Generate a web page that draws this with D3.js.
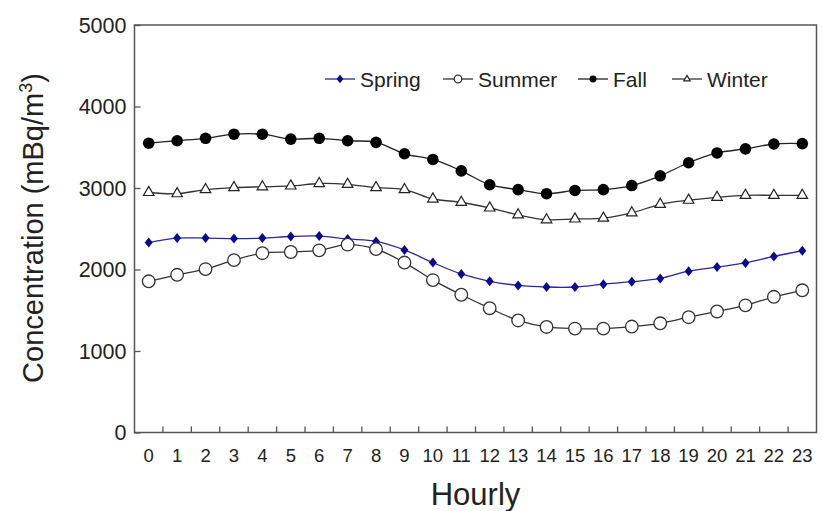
<!DOCTYPE html>
<html>
<head>
<meta charset="utf-8">
<script src="https://cdn.jsdelivr.net/npm/d3@7"></script>
<style>
	body { margin: 0; background: #fff; }
	text { font-family: "Liberation Sans", Arial, sans-serif; fill: #222; }
</style>
</head>
<body>
<div id="chart"></div>
<script>
const hours = d3.range(0, 24)
const yTicks = [0, 1000, 2000, 3000, 4000, 5000]

const spring = [2330, 2385, 2385, 2380, 2385, 2405, 2410, 2375, 2345, 2240, 2085, 1945,
	1855, 1805, 1785, 1785, 1820, 1850, 1890, 1980, 2030, 2080, 2160, 2230]
const summer = [1855, 1935, 2005, 2115, 2200, 2215, 2235, 2305, 2250, 2085, 1870, 1690,
	1525, 1375, 1295, 1275, 1275, 1300, 1340, 1415, 1485, 1560, 1665, 1745]
const fall = [3550, 3580, 3610, 3660, 3660, 3600, 3610, 3580, 3560, 3420, 3350, 3210,
	3040, 2980, 2930, 2970, 2980, 3030, 3150, 3310, 3430, 3480, 3540, 3545]
const winter = [2945, 2930, 2980, 3005, 3015, 3025, 3055, 3045, 3005, 2980, 2865, 2825,
	2755, 2670, 2610, 2620, 2630, 2695, 2800, 2850, 2885, 2910, 2910, 2910]

const seriesNames = ['Spring', 'Summer', 'Fall', 'Winter']

const width = 822, height = 511
const margin = { top: 25, right: 5.5, bottom: 78.5, left: 134.5 }

let svg = d3.select('#chart')
	.append('svg')
	.attr('width', width)
	.attr('height', height)

let xScale = d3.scaleBand()
	.domain(hours)
	.range([margin.left, width - margin.right])

let yScale = d3.scaleLinear()
	.domain([0, 5000])
	.range([height - margin.bottom, margin.top])

const x = h => xScale(h) + xScale.bandwidth() / 2

// frame
svg.append('rect')
	.attr('x', margin.left)
	.attr('y', margin.top)
	.attr('width', width - margin.left - margin.right)
	.attr('height', height - margin.top - margin.bottom)
	.attr('fill', 'none')
	.attr('stroke', '#555')
	.attr('stroke-width', 1.5)

// y axis, ticks inward
let yAxis = svg.append('g')
	.attr('transform', `translate(${margin.left},0)`)
	.call(d3.axisRight(yScale).tickValues(yTicks).tickSize(6).tickFormat(''))
yAxis.select('.domain').remove()
yAxis.selectAll('line').attr('stroke', '#555').attr('stroke-width', 1.3)

svg.selectAll('.ylab')
	.data(yTicks)
	.join('text')
	.attr('class', 'ylab')
	.attr('x', margin.left - 8)
	.attr('y', d => yScale(d))
	.attr('dy', '0.36em')
	.attr('text-anchor', 'end')
	.style('font-size', '21.5px')
	.text(d => d)

// x axis: ticks sit at the band edges
const xEdges = hours.slice(1).map(h => xScale(h))
svg.selectAll('.xtick')
	.data(xEdges)
	.join('line')
	.attr('x1', d => d).attr('x2', d => d)
	.attr('y1', yScale(0)).attr('y2', yScale(0) - 6)
	.attr('stroke', '#555')
	.attr('stroke-width', 1.3)

svg.selectAll('.xlab')
	.data(hours)
	.join('text')
	.attr('class', 'xlab')
	.attr('x', d => x(d))
	.attr('y', 462)
	.attr('text-anchor', 'middle')
	.style('font-size', '18.5px')
	.text(d => d)

svg.append('text')
	.attr('x', (margin.left + width - margin.right) / 2)
	.attr('y', 505)
	.attr('text-anchor', 'middle')
	.style('font-size', '31px')
	.text('Hourly')

svg.append('text')
	.attr('transform', `translate(43,228) rotate(-90)`)
	.attr('text-anchor', 'middle')
	.style('font-size', '29px')
	.html('Concentration (mBq/m<tspan dy="-11" style="font-size:18px">3</tspan><tspan dy="11">)</tspan>')

// marker drawing, s = 1 for the plot, smaller for the legend
function drawMarker(g, type, s) {
	if (type === 'Spring') {
		const d = s < 1 ? 0.85 : 1
		g.append('path')
			.attr('d', `M0,${-5 * d}L${4 * d},0L0,${5 * d}L${-4 * d},0Z`)
			.attr('fill', '#0a0a8a')
	} else if (type === 'Summer') {
		g.append('circle')
			.attr('r', 6.3 * s)
			.attr('fill', '#fff')
			.attr('stroke', '#333')
			.attr('stroke-width', 1.3)
	} else if (type === 'Fall') {
		g.append('circle')
			.attr('r', 5.8 * s)
			.attr('fill', '#000')
	} else {
		g.append('path')
			.attr('d', d3.symbol(d3.symbolTriangle, 48 * s * s)())
			.attr('fill', '#fff')
			.attr('stroke', '#222')
			.attr('stroke-width', 1.2)
	}
}

const seriesData = { Spring: spring, Summer: summer, Fall: fall, Winter: winter }
const lineColor = { Spring: '#2a2a9a', Summer: '#333', Fall: '#222', Winter: '#333' }

let line = d3.line()
	.x((d, i) => x(hours[i]))
	.y(d => yScale(d))
	.curve(d3.curveCatmullRom.alpha(0.5))

seriesNames.forEach(name => {
	const vals = seriesData[name]
	svg.append('path')
		.datum(vals)
		.attr('d', line)
		.attr('fill', 'none')
		.attr('stroke', lineColor[name])
		.attr('stroke-width', 1.3)

	svg.selectAll('.m-' + name)
		.data(vals)
		.join('g')
		.attr('class', 'm-' + name)
		.attr('transform', (d, i) => `translate(${x(hours[i])},${yScale(d)})`)
		.each(function() { drawMarker(d3.select(this), name, 1) })
})

// legend
const legendX = [325, 443, 578, 672]
const legendY = 79
seriesNames.forEach((name, i) => {
	let g = svg.append('g').attr('transform', `translate(${legendX[i]},${legendY})`)
	g.append('line')
		.attr('x1', 0).attr('x2', 30)
		.attr('stroke', lineColor[name])
		.attr('stroke-width', 1.3)
	let m = g.append('g').attr('transform', 'translate(15,0)')
	drawMarker(m, name, 0.6)
	g.append('text')
		.attr('x', 35)
		.attr('dy', '0.36em')
		.style('font-size', '21px')
		.text(name)
})
</script>
</body>
</html>
